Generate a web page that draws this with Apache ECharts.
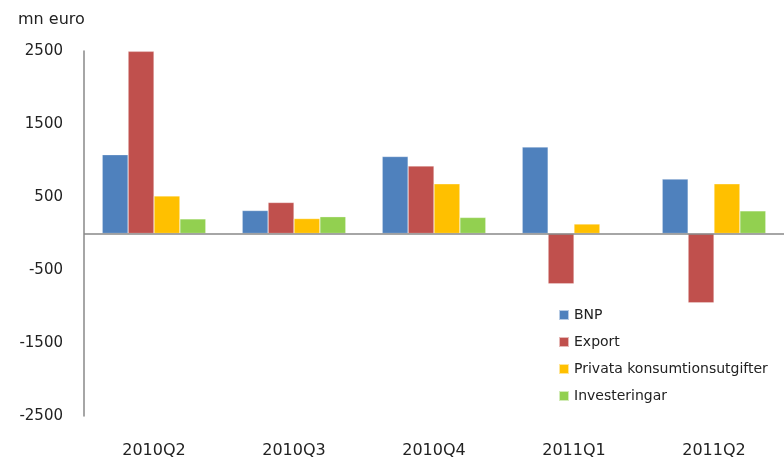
<!DOCTYPE html>
<html>
<head>
<meta charset="utf-8">
<script src="https://cdn.jsdelivr.net/npm/echarts@6/dist/echarts.min.js"></script>
<style>html,body{margin:0;padding:0;background:#fff}#c{width:784px;height:459px}</style>
</head>
<body>
<div id="c"></div>
<script>
const categories = ['2010Q2', '2010Q3', '2010Q4', '2011Q1', '2011Q2'];
const bnp = [1080, 315, 1055, 1185, 745];
const exportVals = [2495, 425, 925, -690, -950];
const privata = [515, 205, 680, 130, 680];
const investeringar = [200, 230, 220, 0, 310];
const yTicks = [-2500, -1500, -500, 500, 1500, 2500];
const seriesNames = ['BNP', 'Export', 'Privata konsumtionsutgifter', 'Investeringar'];
const colors = ['#4F81BD', '#C0504D', '#FFC000', '#92D050'];

const font = 'DejaVu Sans';
const chart = echarts.init(document.getElementById('c'));
const values = [bnp, exportVals, privata, investeringar];
chart.setOption({
  animation: false,
  color: colors,
  title: {
    text: 'mn euro', left: 13, top: 7,
    textStyle: { fontFamily: font, fontSize: 16, fontWeight: 'normal', color: '#222' }
  },
  legend: {
    orient: 'vertical', left: 553, top: 303,
    itemWidth: 10, itemHeight: 10, itemGap: 13,
    icon: 'rect',
    textStyle: { fontFamily: font, fontSize: 14, color: '#222' },
    data: seriesNames
  },
  grid: { left: 84, right: 0, top: 51, bottom: 42, containLabel: false },
  xAxis: {
    type: 'category', data: categories,
    axisLine: { show: false, onZero: false },
    axisTick: { show: false },
    axisLabel: { fontFamily: font, fontSize: 16, color: '#222', margin: 27 }
  },
  yAxis: {
    type: 'value', min: yTicks[0], max: yTicks[yTicks.length - 1], interval: 1000,
    axisLine: { show: true, lineStyle: { color: '#888', width: 1.5 } },
    axisTick: { show: false },
    splitLine: { show: false },
    axisLabel: { fontFamily: font, fontSize: 15, color: '#222', margin: 21, formatter: v => String(v) }
  },
  series: seriesNames.map((name, i) => ({
    name, type: 'bar', data: values[i],
    barGap: '0%', barCategoryGap: '26%',
    itemStyle: { borderColor: 'rgba(255,255,255,0.6)', borderWidth: 0.5 },
    markLine: i === 0 ? {
      silent: true, symbol: ['none', 'none'], label: { show: false },
      lineStyle: { color: '#888', width: 1.5, type: 'solid' },
      data: [{ yAxis: 0 }]
    } : undefined
  }))
});
</script>
</body>
</html>
